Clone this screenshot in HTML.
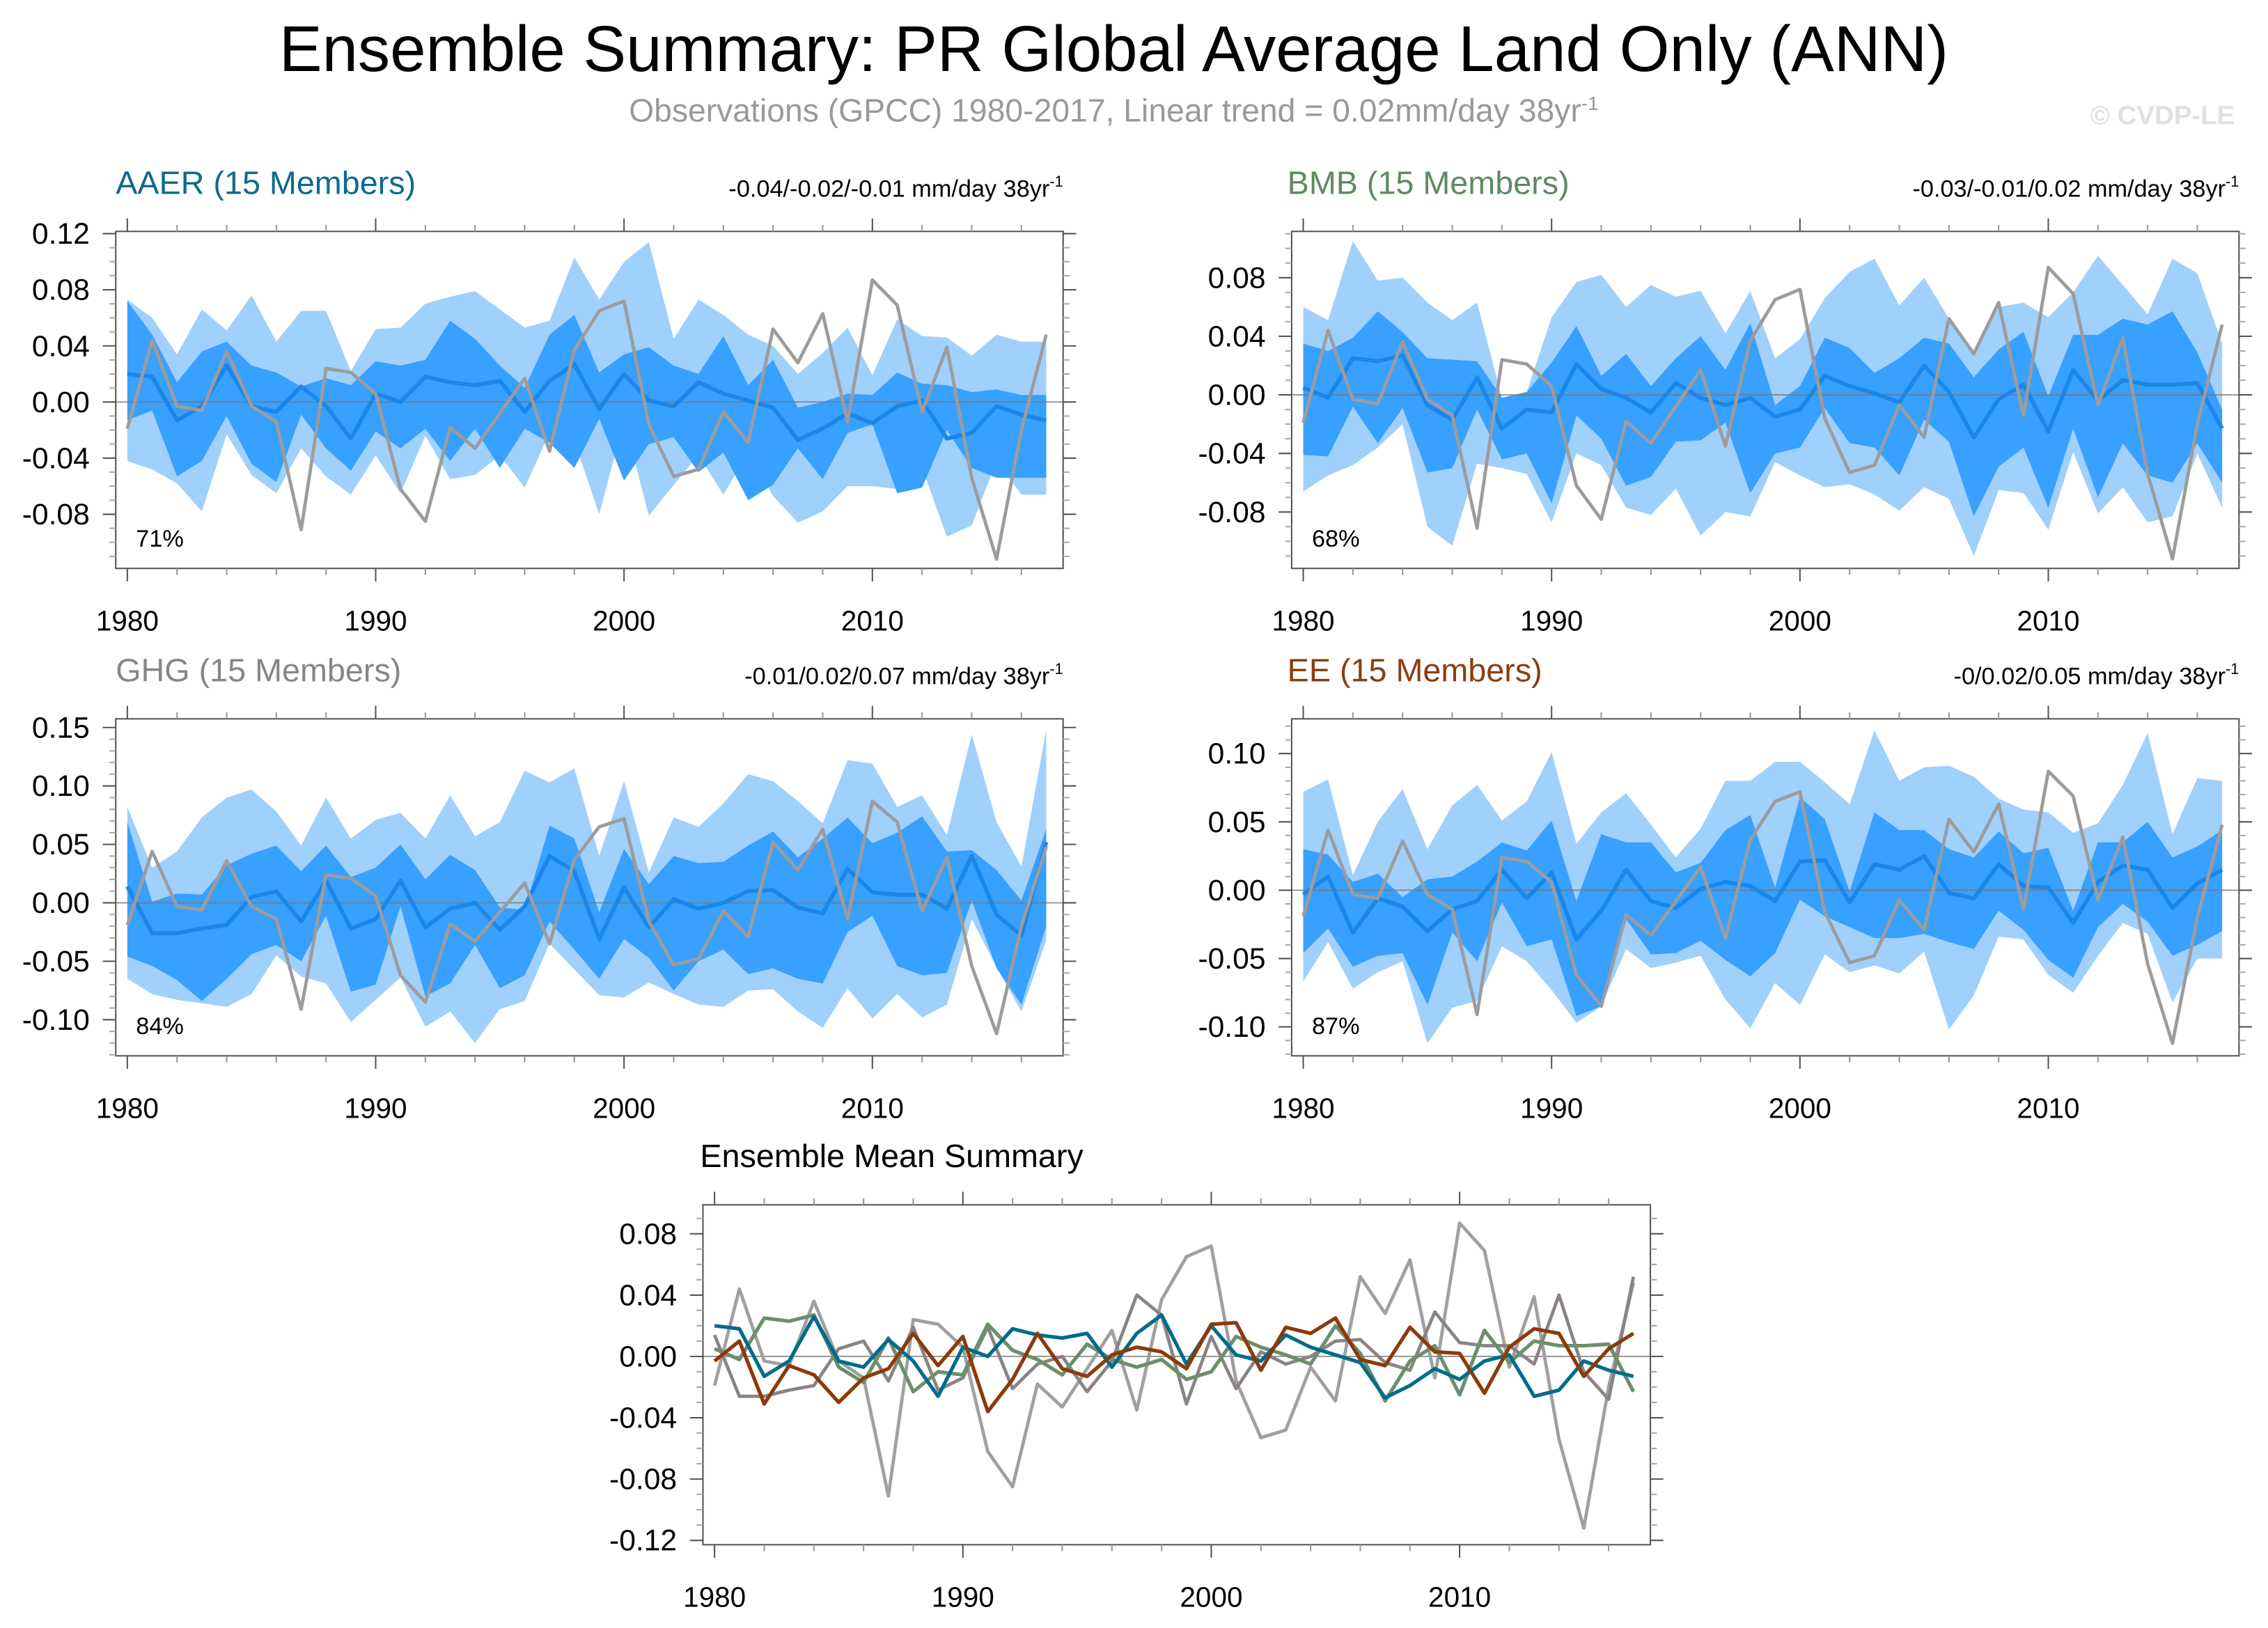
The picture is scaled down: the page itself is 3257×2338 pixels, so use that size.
<!DOCTYPE html>
<html><head><meta charset="utf-8"><style>
html,body{margin:0;padding:0;background:#fff;}
svg{display:block;font-family:"Liberation Sans",Arial,sans-serif;}
</style></head><body>
<svg id="chart" width="3257" height="2338" viewBox="0 0 1568 1125.6" xmlns="http://www.w3.org/2000/svg">
<rect x="0" y="0" width="1568" height="1126" fill="#fff"/>
<text x="770" y="49" font-size="44.5" text-anchor="middle" fill="#000">Ensemble Summary: PR Global Average Land Only (ANN)</text>
<text x="770" y="84" font-size="22.3" text-anchor="middle" fill="#999">Observations (GPCC) 1980-2017, Linear trend = 0.02mm/day 38yr<tspan font-size="13.5" dy="-8">-1</tspan></text>
<text x="1545" y="86" font-size="18.5" font-weight="bold" text-anchor="end" fill="#e0e0e0">© CVDP-LE</text>
<g id="root"></g>
</svg>
<script>
const years = [];
for (let y = 1980; y <= 2017; y++) years.push(y);

const obs = [-0.019,0.044,-0.003,-0.006,0.036,-0.003,-0.014,-0.091,0.024,0.021,0.006,-0.062,-0.085,-0.018,-0.033,-0.008,0.017,-0.035,0.037,0.065,0.072,-0.016,-0.053,-0.048,-0.007,-0.029,0.052,0.028,0.063,-0.014,0.087,0.069,-0.007,0.039,-0.054,-0.112,-0.020,0.048];

const aaerMean = [0.020,0.018,-0.013,-0.003,0.026,-0.003,-0.007,0.011,-0.003,-0.026,0.006,0.000,0.018,0.014,0.012,0.015,-0.007,0.015,0.027,-0.005,0.020,0.001,-0.003,0.014,0.006,0.001,-0.004,-0.027,-0.019,-0.008,-0.015,-0.003,0.001,-0.026,-0.022,-0.003,-0.009,-0.013];
const aaerOutHi = [0.073,0.060,0.034,0.066,0.051,0.076,0.043,0.065,0.065,0.022,0.052,0.053,0.070,0.075,0.079,0.066,0.053,0.058,0.103,0.073,0.100,0.114,0.045,0.073,0.062,0.048,0.040,0.020,0.035,0.053,0.019,0.059,0.047,0.046,0.033,0.048,0.043,0.043];
const aaerOutLo = [-0.042,-0.048,-0.058,-0.078,-0.023,-0.052,-0.065,-0.033,-0.053,-0.066,-0.038,-0.065,-0.024,-0.055,-0.052,-0.038,-0.061,-0.022,-0.028,-0.080,-0.013,-0.081,-0.059,-0.038,-0.066,-0.036,-0.067,-0.086,-0.078,-0.060,-0.060,-0.062,-0.047,-0.096,-0.088,-0.042,-0.066,-0.066];
const aaerInHi = [0.072,0.048,0.014,0.036,0.043,0.026,0.021,0.011,0.017,0.012,0.029,0.026,0.030,0.058,0.045,0.026,0.010,0.048,0.062,0.021,0.034,0.039,0.026,0.020,0.047,0.012,0.030,-0.004,0.000,0.006,0.005,0.021,0.013,0.012,0.007,0.009,0.005,0.005];
const aaerInLo = [-0.013,-0.006,-0.053,-0.042,-0.010,-0.044,-0.057,-0.009,-0.033,-0.049,-0.021,-0.033,-0.019,-0.042,-0.019,-0.047,-0.019,-0.029,-0.047,-0.012,-0.056,-0.030,-0.025,-0.050,-0.036,-0.070,-0.059,-0.033,-0.055,-0.022,-0.016,-0.065,-0.061,-0.020,-0.047,-0.054,-0.054,-0.054];

const bmbMean = [0.005,-0.002,0.025,0.023,0.027,-0.007,-0.017,0.012,-0.023,-0.010,-0.012,0.021,0.004,-0.002,-0.012,0.008,-0.002,-0.007,-0.002,-0.015,-0.010,0.013,0.006,0.001,-0.005,0.020,0.002,-0.029,-0.003,0.007,-0.025,0.017,-0.004,0.010,0.007,0.007,0.008,-0.023];
const bmbOutHi = [0.060,0.051,0.105,0.078,0.080,0.063,0.051,0.063,-0.002,0.002,0.053,0.077,0.082,0.060,0.075,0.067,0.071,0.042,0.071,0.025,0.038,0.066,0.084,0.093,0.061,0.080,0.052,0.029,0.060,0.063,0.053,0.070,0.095,0.075,0.055,0.093,0.083,0.035];
const bmbOutLo = [-0.066,-0.055,-0.048,-0.036,-0.020,-0.090,-0.103,-0.047,-0.050,-0.054,-0.087,-0.040,-0.048,-0.077,-0.082,-0.064,-0.096,-0.080,-0.083,-0.046,-0.055,-0.063,-0.061,-0.068,-0.079,-0.063,-0.071,-0.110,-0.065,-0.067,-0.092,-0.039,-0.081,-0.063,-0.087,-0.083,-0.040,-0.077];
const bmbInHi = [0.035,0.030,0.039,0.057,0.043,0.025,0.024,0.023,-0.002,0.002,0.022,0.047,0.013,0.028,0.006,0.025,0.040,0.017,0.049,-0.007,0.006,0.039,0.032,0.015,0.025,0.039,0.035,0.012,0.031,0.043,-0.001,0.041,0.041,0.052,0.048,0.057,0.029,-0.010];
const bmbInLo = [-0.041,-0.042,-0.008,-0.033,-0.009,-0.053,-0.050,-0.010,-0.044,-0.040,-0.074,-0.014,-0.030,-0.062,-0.056,-0.032,-0.031,-0.019,-0.067,-0.040,-0.036,-0.009,-0.033,-0.036,-0.055,-0.017,-0.032,-0.083,-0.049,-0.036,-0.077,-0.023,-0.070,-0.033,-0.055,-0.060,-0.033,-0.060];

const ghgMean = [0.014,-0.026,-0.026,-0.022,-0.019,0.005,0.010,-0.016,0.019,-0.022,-0.014,0.019,-0.021,-0.005,0.000,-0.023,-0.003,0.040,0.027,-0.031,0.013,-0.021,0.003,-0.005,0.000,0.010,0.011,-0.004,-0.009,0.029,0.009,0.007,0.007,-0.005,0.040,-0.010,-0.028,0.052];
const ghgOutHi = [0.082,0.030,0.044,0.073,0.090,0.097,0.078,0.049,0.090,0.055,0.071,0.077,0.055,0.092,0.057,0.069,0.113,0.103,0.115,0.040,0.104,0.026,0.073,0.065,0.085,0.110,0.104,0.087,0.068,0.122,0.119,0.082,0.092,0.058,0.144,0.069,0.031,0.148];
const ghgOutLo = [-0.065,-0.078,-0.083,-0.086,-0.089,-0.078,-0.045,-0.063,-0.069,-0.102,-0.083,-0.064,-0.106,-0.093,-0.120,-0.091,-0.084,-0.035,-0.057,-0.079,-0.081,-0.068,-0.078,-0.087,-0.089,-0.075,-0.074,-0.093,-0.107,-0.073,-0.099,-0.078,-0.098,-0.087,-0.014,-0.055,-0.093,-0.032];
const ghgInHi = [0.069,0.001,0.008,0.007,0.032,0.042,0.049,0.027,0.049,0.022,0.030,0.050,0.020,0.041,0.028,-0.004,-0.006,0.066,0.055,-0.008,0.046,0.016,0.040,0.034,0.035,0.049,0.061,0.039,0.055,0.073,0.051,0.060,0.074,0.044,0.045,0.028,0.002,0.063];
const ghgInLo = [-0.046,-0.054,-0.066,-0.084,-0.065,-0.044,-0.036,-0.050,-0.011,-0.076,-0.070,-0.003,-0.080,-0.069,-0.036,-0.073,-0.062,-0.016,-0.040,-0.065,-0.031,-0.047,-0.075,-0.050,-0.040,-0.061,-0.056,-0.065,-0.069,-0.025,-0.011,-0.054,-0.062,-0.060,0.002,-0.056,-0.087,-0.020];

const eeMean = [-0.003,0.010,-0.031,-0.006,-0.012,-0.030,-0.014,-0.008,0.015,-0.006,0.013,-0.036,-0.015,0.015,-0.008,-0.013,0.001,0.006,0.003,-0.008,0.021,0.022,-0.009,0.019,0.015,0.025,-0.002,-0.006,0.019,0.003,0.002,-0.024,0.006,0.018,0.015,-0.013,0.005,0.015];
const eeOutHi = [0.072,0.081,0.011,0.050,0.074,0.030,0.062,0.077,0.051,0.065,0.101,0.034,0.057,0.071,0.048,0.024,0.045,0.080,0.080,0.094,0.094,0.079,0.063,0.117,0.080,0.090,0.091,0.083,0.067,0.059,0.057,0.042,0.049,0.077,0.115,0.041,0.082,0.080];
const eeOutLo = [-0.067,-0.038,-0.072,-0.060,-0.052,-0.112,-0.086,-0.081,-0.041,-0.052,-0.073,-0.097,-0.085,-0.043,-0.057,-0.053,-0.048,-0.080,-0.101,-0.068,-0.084,-0.047,-0.060,-0.055,-0.061,-0.045,-0.102,-0.077,-0.034,-0.036,-0.062,-0.075,-0.048,-0.024,-0.032,-0.082,-0.050,-0.050];
const eeInHi = [0.030,0.026,0.006,0.012,-0.005,0.008,0.010,0.021,0.035,0.029,0.051,-0.008,0.041,0.035,0.035,0.013,0.020,0.044,0.055,0.002,0.068,0.052,-0.001,0.057,0.044,0.044,0.030,0.024,0.043,0.027,0.031,-0.015,0.035,0.035,0.050,0.024,0.032,0.044];
const eeInLo = [-0.046,-0.028,-0.056,-0.048,-0.046,-0.084,-0.031,-0.052,-0.009,-0.041,-0.036,-0.092,-0.085,-0.021,-0.047,-0.046,-0.037,-0.051,-0.063,-0.046,-0.007,-0.019,-0.027,-0.035,-0.035,-0.032,-0.038,-0.043,-0.015,-0.029,-0.051,-0.064,-0.027,-0.010,-0.023,-0.048,-0.040,-0.030];

const xTickLabels = ["1980","1990","2000","2010"];
const aaerTicks = [-0.08,-0.04,0.00,0.04,0.08,0.12];
const bmbTicks = [-0.08,-0.04,0.00,0.04,0.08];
const ghgTicks = [-0.10,-0.05,0.00,0.05,0.10,0.15];
const eeTicks = [-0.10,-0.05,0.00,0.05,0.10];
const meanTicks = [-0.12,-0.08,-0.04,0.00,0.04,0.08];

const NS = "http://www.w3.org/2000/svg";
const root = document.getElementById("root");
function mk(tag, attrs, parent) {
  const e = document.createElementNS(NS, tag);
  for (const k in attrs) e.setAttribute(k, attrs[k]);
  (parent || root).appendChild(e);
  return e;
}

function panel(cfg) {
  const g = mk("g", {});
  
  
  const X0 = cfg.x, Y0 = cfg.y, W = 655, H = cfg.h;
  const xmin = 1979.534, xmax = 2017.68;
  const sx = v => X0 + (v - xmin) / (xmax - xmin) * W;
  const sy = v => Y0 + (cfg.ymax - v) / (cfg.ymax - cfg.ymin) * H;
  const poly = (hi, lo) => {
    let p = years.map((yr, i) => sx(yr).toFixed(2) + "," + sy(hi[i]).toFixed(2));
    for (let i = years.length - 1; i >= 0; i--) p.push(sx(years[i]).toFixed(2) + "," + sy(lo[i]).toFixed(2));
    return p.join(" ");
  };
  const line = arr => years.map((yr, i) => sx(yr).toFixed(2) + "," + sy(arr[i]).toFixed(2)).join(" ");
  if (cfg.bands) {
    const b1 = mk("polygon", {points: poly(cfg.bands[0], cfg.bands[1]), fill: "#a0d0fc"}, g);
    
    
    const b2 = mk("polygon", {points: poly(cfg.bands[2], cfg.bands[3]), fill: "#38a0ff"}, g);
    
    
  }
  const z = mk("line", {x1: X0, x2: X0 + W, y1: sy(0), y2: sy(0), stroke: "#777", "stroke-width": 0.9, opacity: 0.8}, g);
  
  
  cfg.lines.forEach(L => {
    const pl = mk("polyline", {points: line(L.data), fill: "none", stroke: L.color, "stroke-width": L.w, "stroke-linejoin": "round"}, g);
    
    
  });
  const fr = mk("rect", {x: X0, y: Y0, width: W, height: H, fill: "none", stroke: "#555", "stroke-width": 1}, g);
  
  
  for (let yr = 1980; yr <= 2016; yr += 2) {
    const major = yr % 10 === 0;
    const L = major ? 9 : 4.5;
    const c = major ? "#555" : "#999";
    mk("line", {x1: sx(yr), x2: sx(yr), y1: Y0 + H, y2: Y0 + H + L, stroke: c, "stroke-width": 1}, g);
    mk("line", {x1: sx(yr), x2: sx(yr), y1: Y0, y2: Y0 - L, stroke: c, "stroke-width": 1}, g);
  }
  xTickLabels.forEach(t => {
    const tx = mk("text", {x: sx(+t), y: Y0 + H + 43, "font-size": 19.5, "text-anchor": "middle", fill: "#000"}, g);
    
    
    tx.textContent = t;
  });
  for (let k = Math.ceil(cfg.ymin * 100 - 1e-6); k <= Math.floor(cfg.ymax * 100 + 1e-6); k++) {
    const v = k / 100;
    const major = cfg.ticks.some(t => Math.abs(t - v) < 1e-6);
    const L = major ? 9 : 4.5;
    const c = major ? "#555" : "#aaa";
    mk("line", {x1: X0, x2: X0 - L, y1: sy(v), y2: sy(v), stroke: c, "stroke-width": 1}, g);
    mk("line", {x1: X0 + W, x2: X0 + W + L, y1: sy(v), y2: sy(v), stroke: c, "stroke-width": 1}, g);
  }
  cfg.ticks.forEach(t => {
    const tx = mk("text", {x: X0 - 18, y: sy(t) + 7, "font-size": 20.5, "text-anchor": "end", fill: "#000"}, g);
    
    
    tx.textContent = t.toFixed(2);
  });
  const tt = mk("text", {x: cfg.tx, y: Y0 - 26, "font-size": 22.5, fill: cfg.tcolor}, g);
  
  
  tt.textContent = cfg.title;
  if (cfg.trend) {
    const tr = mk("text", {x: X0 + W, y: Y0 - 24, "font-size": 16.5, "text-anchor": "end", fill: "#000"}, g);
    
    
    tr.textContent = cfg.trend + " mm/day 38yr";
    const sp = mk("tspan", {"font-size": 10.5, dy: -7}, tr);
    sp.textContent = "-1";
  }
  if (cfg.pct) {
    const p = mk("text", {x: X0 + 14, y: Y0 + H - 15, "font-size": 16.5, fill: "#000"}, g);
    
    
    p.textContent = cfg.pct;
  }
}

const meanBlue = "#1a86ea", obsGray = "#9c9c9c";
panel({name: "aaer", x: 80, y: 160, h: 233, ymin: -0.1186, ymax: 0.1216, ticks: aaerTicks, tx: 80, title: "AAER (15 Members)", tcolor: "#0f6a8c", trend: "-0.04/-0.02/-0.01", pct: "71%",
  bands: [aaerOutHi, aaerOutLo, aaerInHi, aaerInLo],
  lines: [{data: aaerMean, color: meanBlue, w: 2.8, name: "aaer-ensemble-mean-line"}, {data: obs, color: obsGray, w: 2.3, name: "aaer-observations-line"}]});
panel({name: "bmb", x: 893, y: 160, h: 233, ymin: -0.1185, ymax: 0.1116, ticks: bmbTicks, tx: 890, title: "BMB (15 Members)", tcolor: "#5f8a5f", trend: "-0.03/-0.01/0.02", pct: "68%",
  bands: [bmbOutHi, bmbOutLo, bmbInHi, bmbInLo],
  lines: [{data: bmbMean, color: meanBlue, w: 2.8, name: "bmb-ensemble-mean-line"}, {data: obs, color: obsGray, w: 2.3, name: "bmb-observations-line"}]});
panel({name: "ghg", x: 80, y: 497, h: 233, ymin: -0.1309, ymax: 0.1574, ticks: ghgTicks, tx: 80, title: "GHG (15 Members)", tcolor: "#8a8486", trend: "-0.01/0.02/0.07", pct: "84%",
  bands: [ghgOutHi, ghgOutLo, ghgInHi, ghgInLo],
  lines: [{data: ghgMean, color: meanBlue, w: 2.8, name: "ghg-ensemble-mean-line"}, {data: obs, color: obsGray, w: 2.3, name: "ghg-observations-line"}]});
panel({name: "ee", x: 893, y: 497, h: 233, ymin: -0.1212, ymax: 0.1254, ticks: eeTicks, tx: 890, title: "EE (15 Members)", tcolor: "#8b3d10", trend: "-0/0.02/0.05", pct: "87%",
  bands: [eeOutHi, eeOutLo, eeInHi, eeInLo],
  lines: [{data: eeMean, color: meanBlue, w: 2.8, name: "ee-ensemble-mean-line"}, {data: obs, color: obsGray, w: 2.3, name: "ee-observations-line"}]});
panel({name: "ensemble-mean", x: 486, y: 833, h: 235, ymin: -0.1228, ymax: 0.0989, ticks: meanTicks, tx: 484, title: "Ensemble Mean Summary", tcolor: "#000",
  lines: [
    {data: obs, color: "#a0a0a0", w: 2.3, name: "summary-observations-line"},
    {data: ghgMean, color: "#8a8385", w: 2.3, name: "summary-ghg-mean-line"},
    {data: bmbMean, color: "#6b8f6b", w: 2.5, name: "summary-bmb-mean-line"},
    {data: aaerMean, color: "#006b8c", w: 2.5, name: "summary-aaer-mean-line"},
    {data: eeMean, color: "#8b3a0a", w: 2.5, name: "summary-ee-mean-line"}]});
</script>
</body></html>
